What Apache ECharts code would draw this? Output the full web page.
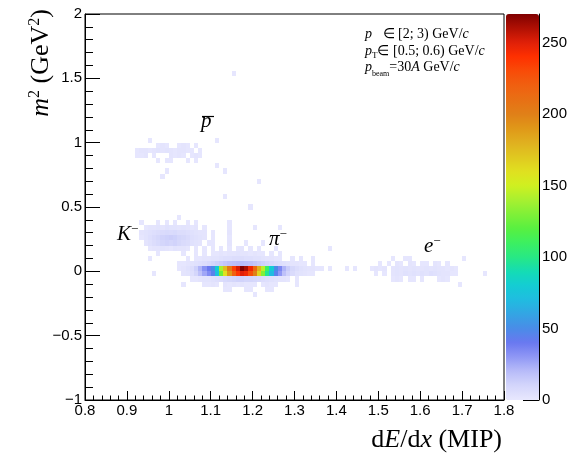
<!DOCTYPE html>
<html><head><meta charset="utf-8">
<script src="https://cdn.jsdelivr.net/npm/echarts@6/dist/echarts.min.js"></script>
<style>html,body{margin:0;padding:0;background:#fff}#c{width:576px;height:465px}</style>
</head><body><div id="c"></div>
<script>
// ---- binning of the 2D histogram ----
const BIN_X = 0.01;   // dE/dx bin width (MIP)
const BIN_Y = 0.04;   // m^2 bin width (GeV^2)

// ---- axis ranges / ticks ----
const xRange = [0.8, 1.8];
const yRange = [-1, 2];
const zMax = 270;
const zTicks = [0, 50, 100, 150, 200, 250];

// ---- pi- band: rows (lower m^2 edge), first dE/dx bin, counts in consecutive bins ----
const pionRowY  = [-0.12, -0.08, -0.04, 0.00, 0.04, 0.08, 0.12];
const pionRowX0 = [1.03, 1.05, 1.03, 1.02, 1.02, 1.04, 1.06];
const pionRowCounts = [
  [1,0,0,0,0,1,1,2,1,0,2,1,2,1,2,1,1,1,0,1,2,1,1,0,0,0,0,1],
  [1,1,2,3,3,4,5,6,8,9,10,11,11,10,10,9,8,6,5,4,3,2,2,1,0,1],
  [2,3,5,10,18,26,34,45,72,125,160,190,220,238,250,245,228,200,165,130,98,70,45,30,18,11,7,4,3,2,1,1],
  [1,2,4,6,12,22,32,40,50,80,140,175,205,235,252,270,262,245,215,180,145,110,80,50,35,22,14,9,6,4,3,2,2,1,1],
  [1,1,2,3,4,5,6,8,10,12,14,16,18,19,20,20,19,18,16,14,12,10,8,6,5,4,3,2,2,1,1,0,1],
  [1,0,1,1,2,2,3,3,4,5,5,6,6,6,5,5,4,4,3,2,2,1,1,0,0,1,0,1],
  [1,0,1,0,1,1,2,1,2,2,3,2,2,1,2,1,1,0,1,0,1]
];

// ---- sparse cells [dE/dx bin, m^2 bin, count] ----
const pionHaloCells = [
  [1.08,0.16,1],[1.10,0.16,1],[1.12,0.16,1],[1.14,0.16,1],[1.16,0.16,1],[1.17,0.16,2],[1.19,0.16,1],[1.21,0.16,1],[1.25,0.16,1],
  [1.10,0.20,1],[1.14,0.20,2],[1.18,0.20,1],[1.22,0.20,1],
  [1.10,0.24,1],[1.14,0.24,1],[1.14,0.28,2],[1.14,0.32,1],[1.14,0.36,1],
  [1.13,-0.16,1],[1.14,-0.16,1],[1.18,-0.16,1],[1.19,-0.16,1],[1.23,-0.16,1],[1.24,-0.16,1],
  [1.20,-0.20,1]
];
const kaonCells = [
  [0.93,0.36,1],[0.97,0.36,1],[0.99,0.36,1],[1.01,0.36,1],[1.04,0.36,1],
  [0.94,0.32,1],[0.95,0.32,2],[0.96,0.32,2],[0.97,0.32,3],[0.98,0.32,2],[0.99,0.32,4],[1.00,0.32,3],[1.01,0.32,3],[1.02,0.32,2],[1.03,0.32,3],[1.04,0.32,2],[1.05,0.32,1],[1.06,0.32,2],[1.08,0.32,1],
  [0.93,0.28,2],[0.94,0.28,3],[0.95,0.28,4],[0.96,0.28,5],[0.97,0.28,6],[0.98,0.28,7],[0.99,0.28,8],[1.00,0.28,7],[1.01,0.28,8],[1.02,0.28,6],[1.03,0.28,6],[1.04,0.28,5],[1.05,0.28,4],[1.06,0.28,3],[1.07,0.28,2],[1.08,0.28,2],[1.10,0.28,1],
  [0.93,0.24,1],[0.94,0.24,3],[0.95,0.24,5],[0.96,0.24,7],[0.97,0.24,9],[0.98,0.24,11],[0.99,0.24,12],[1.00,0.24,13],[1.01,0.24,12],[1.02,0.24,10],[1.03,0.24,9],[1.04,0.24,7],[1.05,0.24,5],[1.06,0.24,4],[1.07,0.24,3],[1.08,0.24,2],
  [0.94,0.20,2],[0.95,0.20,4],[0.96,0.20,6],[0.97,0.20,8],[0.98,0.20,10],[0.99,0.20,11],[1.00,0.20,10],[1.01,0.20,11],[1.02,0.20,9],[1.03,0.20,7],[1.04,0.20,6],[1.05,0.20,4],[1.06,0.20,3],[1.07,0.20,2],[1.09,0.20,1],
  [0.95,0.16,1],[0.96,0.16,2],[0.97,0.16,2],[0.98,0.16,3],[0.99,0.16,2],[1.00,0.16,1],[1.01,0.16,3],[1.02,0.16,2],[1.03,0.16,2],[1.04,0.16,1],[1.06,0.16,1],
  [0.97,0.12,1],[1.03,0.12,1]
];
const antiprotonCells = [
  [0.95,1.00,1],[1.11,1.00,1],
  [0.97,0.96,1],[0.98,0.96,2],[0.99,0.96,1],[1.02,0.96,1],[1.03,0.96,2],[1.04,0.96,1],[1.06,0.96,1],
  [0.92,0.92,1],[0.93,0.92,2],[0.94,0.92,2],[0.95,0.92,1],[0.96,0.92,2],[0.97,0.92,3],[0.98,0.92,2],[0.99,0.92,3],[1.00,0.92,2],[1.01,0.92,1],[1.02,0.92,2],[1.03,0.92,2],[1.04,0.92,1],[1.05,0.92,1],[1.07,0.92,1],
  [0.92,0.88,1],[0.93,0.88,1],[0.94,0.88,2],[0.96,0.88,1],[1.00,0.88,2],[1.01,0.88,1],[1.02,0.88,2],[1.03,0.88,1],[1.05,0.88,1],[1.06,0.88,2],[1.07,0.88,1],
  [0.97,0.84,1],[0.99,0.84,1],[1.00,0.84,1],[1.04,0.84,1],[1.06,0.84,1],
  [1.11,0.80,1],[0.99,0.76,1],[1.13,0.76,1],[0.98,0.72,1]
];
const electronCells = [
  [1.53,0.08,1],[1.56,0.08,1],[1.57,0.08,1],
  [1.50,0.04,1],[1.52,0.04,1],[1.54,0.04,2],[1.55,0.04,1],[1.57,0.04,2],[1.58,0.04,1],[1.60,0.04,1],[1.61,0.04,1],[1.63,0.04,2],[1.64,0.04,1],[1.66,0.04,1],
  [1.48,0.00,1],[1.49,0.00,2],[1.50,0.00,1],[1.51,0.00,2],[1.53,0.00,2],[1.54,0.00,3],[1.55,0.00,2],[1.56,0.00,3],[1.57,0.00,2],[1.58,0.00,3],[1.59,0.00,2],[1.60,0.00,2],[1.61,0.00,3],[1.62,0.00,2],[1.63,0.00,3],[1.64,0.00,2],[1.65,0.00,2],[1.66,0.00,1],[1.67,0.00,2],[1.68,0.00,1],
  [1.49,-0.04,1],[1.51,-0.04,1],[1.53,-0.04,2],[1.54,-0.04,3],[1.55,-0.04,2],[1.56,-0.04,4],[1.57,-0.04,3],[1.58,-0.04,4],[1.59,-0.04,3],[1.60,-0.04,4],[1.61,-0.04,3],[1.62,-0.04,5],[1.63,-0.04,4],[1.64,-0.04,3],[1.65,-0.04,2],[1.66,-0.04,2],[1.67,-0.04,1],[1.68,-0.04,1],
  [1.53,-0.08,1],[1.54,-0.08,2],[1.55,-0.08,1],[1.57,-0.08,1],[1.58,-0.08,1],[1.60,-0.08,1],[1.64,-0.08,1],[1.65,-0.08,2],[1.66,-0.08,1],
  [1.69,-0.12,1]
];
const strayCells = [
  [1.15,1.52,1],[1.21,0.68,1],[1.13,0.56,1],[1.19,0.48,1],[1.02,0.40,1],[1.06,0.36,1],
  [1.20,0.32,1],[1.26,0.32,1],[1.38,0.16,1],[1.00,0.16,1],[0.95,0.08,1],
  [1.35,0.00,1],[1.38,0.00,1],[1.42,0.00,1],[1.44,0.00,1],
  [1.29,0.08,1],[1.31,0.08,1],[1.34,0.08,1],[1.30,-0.12,1],
  [1.70,0.08,1],[1.75,-0.04,1],[0.96,-0.04,1]
];

// colour palette (0 .. 270, one colour per 10 counts)
const paletteColors = ['#e8e8fe','#d4d6fb','#b8bcf9','#9098f5','#6a78f0','#4a8ce8','#34a4e4','#20bce0','#14ccd4','#14dcb4',
  '#28e884','#3cf060','#58f040','#80f038','#a8f030','#d0f020','#e0e020','#e0c820','#e0b020','#e09818',
  '#e08018','#e87014','#f06010','#f84c08','#ff3000','#e02008','#b01004','#800000'];

// ---- build cell list ----
const cells = [];
pionRowY.forEach((y, r) => {
  pionRowCounts[r].forEach((c, k) => {
    if (c > 0) cells.push([Math.round((pionRowX0[r] + k * BIN_X) * 100) / 100, y, c]);
  });
});
[pionHaloCells, kaonCells, antiprotonCells, electronCells, strayCells].forEach(a => a.forEach(d => cells.push(d)));

const SANS = '"Liberation Sans", Arial, Helvetica, sans-serif';
const SERIF = '"Liberation Serif", "Times New Roman", serif';
const fmtNum = v => String(Math.round(v * 10) / 10).replace('-', '\u2212');

const chart = echarts.init(document.getElementById('c'), null, {renderer: 'canvas'});
chart.setOption({
  animation: false,
  backgroundColor: '#fff',
  grid: [
    {left: 85, top: 14, width: 419, height: 386, show: true, borderColor: '#000', borderWidth: 1, backgroundColor: 'transparent'},
    {left: 506, top: 14, width: 33, height: 386, show: false}
  ],
  xAxis: [
    {type: 'value', gridIndex: 0, min: xRange[0], max: xRange[1], interval: 0.1,
     axisLine: {onZero: false, lineStyle: {color: '#000', width: 1}},
     axisTick: {inside: true, length: 9, lineStyle: {color: '#000'}},
     minorTick: {show: true, splitNumber: 5, length: 4.5, lineStyle: {color: '#000'}},
     splitLine: {show: false},
     axisLabel: {formatter: fmtNum, fontFamily: SANS, fontSize: 15, color: '#000', margin: 3}},
    {type: 'value', gridIndex: 1, min: 0, max: 1, show: false}
  ],
  yAxis: [
    {type: 'value', gridIndex: 0, min: yRange[0], max: yRange[1], interval: 0.5,
     axisLine: {onZero: false, lineStyle: {color: '#000', width: 1}},
     axisTick: {inside: true, length: 15, lineStyle: {color: '#000'}},
     minorTick: {show: true, splitNumber: 5, length: 8, lineStyle: {color: '#000'}},
     splitLine: {show: false},
     axisLabel: {formatter: fmtNum, fontFamily: SANS, fontSize: 15, color: '#000', margin: 3}},
    {type: 'value', gridIndex: 1, position: 'right', min: 0, max: zMax,
     axisLine: {show: true, onZero: false, lineStyle: {color: '#000', width: 1}},
     axisTick: {show: true, inside: true, length: 16, customValues: zTicks, lineStyle: {color: '#000'}},
     axisLabel: {show: true, customValues: zTicks, fontFamily: SANS, fontSize: 15, color: '#000', margin: 3},
     splitLine: {show: false}}
  ],
  visualMap: {
    type: 'continuous', min: 0, max: zMax, dimension: 2, seriesIndex: 0,
    left: 506, top: 14, itemWidth: 33, itemHeight: 386, padding: 0,
    calculable: false, hoverLink: false, text: null, showLabel: false,
    inRange: {color: paletteColors}
  },
  series: [{
    type: 'custom', xAxisIndex: 0, yAxisIndex: 0, clip: true,
    encode: {x: 0, y: 1},
    data: cells,
    renderItem: (params, api) => {
      const x = api.value(0), y = api.value(1);
      const p0 = api.coord([x, y + BIN_Y]);
      const p1 = api.coord([x + BIN_X, y]);
      const x0 = Math.round(p0[0]), y0 = Math.round(p0[1]);
      return {type: 'rect',
        shape: {x: x0, y: y0, width: Math.round(p1[0]) - x0, height: Math.round(p1[1]) - y0},
        style: {fill: api.visual('color'), stroke: null}};
    }
  }],
  graphic: [
    {type: 'text', x: 41, y: 9, rotation: Math.PI / 2, z: 10,
     style: {text: '{i|m}{s|2}{n| (GeV}{s|2}{n|)}', align: 'right', verticalAlign: 'middle',
       rich: {i: {fontFamily: SERIF, fontStyle: 'italic', fontSize: 26, lineHeight: 28, fill: '#000'},
              n: {fontFamily: SERIF, fontSize: 26, lineHeight: 28, fill: '#000'},
              s: {fontFamily: SERIF, fontSize: 16, lineHeight: 16, verticalAlign: 'top', fill: '#000'}}}},
    {type: 'text', x: 502, y: 440, z: 10,
     style: {text: '{n|d}{i|E}{n|/d}{i|x}{n| (MIP)}', align: 'right', verticalAlign: 'middle',
       rich: {i: {fontFamily: SERIF, fontStyle: 'italic', fontSize: 26, fill: '#000'},
              n: {fontFamily: SERIF, fontSize: 26, fill: '#000'}}}},
    {type: 'text', x: 365, y: 34, z: 10,
     style: {text: '{i|p}{n|   \u2208 [2; 3) GeV/}{i|c}', verticalAlign: 'middle',
       rich: {i: {fontFamily: SERIF, fontStyle: 'italic', fontSize: 14, lineHeight: 18, fill: '#000'},
              n: {fontFamily: SERIF, fontSize: 14, lineHeight: 18, fill: '#000'}}}},
    {type: 'text', x: 365, y: 51, z: 10,
     style: {text: '{i|p}{b|T}{n|\u2208 [0.5; 0.6) GeV/}{i|c}', verticalAlign: 'middle',
       rich: {i: {fontFamily: SERIF, fontStyle: 'italic', fontSize: 14, lineHeight: 18, fill: '#000'},
              n: {fontFamily: SERIF, fontSize: 14, lineHeight: 18, fill: '#000'},
              b: {fontFamily: SERIF, fontSize: 9, lineHeight: 9, verticalAlign: 'bottom', fill: '#000'}}}},
    {type: 'text', x: 365, y: 67, z: 10,
     style: {text: '{i|p}{b|beam}{n|=30}{i|A}{n| GeV/}{i|c}', verticalAlign: 'middle',
       rich: {i: {fontFamily: SERIF, fontStyle: 'italic', fontSize: 14, lineHeight: 22, fill: '#000'},
              n: {fontFamily: SERIF, fontSize: 14, lineHeight: 22, fill: '#000'},
              b: {fontFamily: SERIF, fontSize: 8, lineHeight: 8, verticalAlign: 'bottom', fill: '#000'}}}},
    {type: 'text', x: 201, y: 121, z: 10,
     style: {text: 'p', fontFamily: SERIF, fontStyle: 'italic', fontSize: 21, verticalAlign: 'middle', fill: '#000'}},
    {type: 'line', z: 10, shape: {x1: 202, y1: 116.5, x2: 214, y2: 116.5}, style: {stroke: '#000', lineWidth: 1.2}},
    {type: 'text', x: 117, y: 234, z: 10,
     style: {text: '{i|K}{s|\u2212}', verticalAlign: 'middle',
       rich: {i: {fontFamily: SERIF, fontStyle: 'italic', fontSize: 21, lineHeight: 22, fill: '#000'},
              s: {fontFamily: SERIF, fontSize: 13, lineHeight: 13, verticalAlign: 'top', fill: '#000'}}}},
    {type: 'text', x: 269, y: 239, z: 10,
     style: {text: '{i|\u03c0}{s|\u2212}', verticalAlign: 'middle',
       rich: {i: {fontFamily: SERIF, fontStyle: 'italic', fontSize: 21, lineHeight: 22, fill: '#000'},
              s: {fontFamily: SERIF, fontSize: 13, lineHeight: 13, verticalAlign: 'top', fill: '#000'}}}},
    {type: 'text', x: 424, y: 246, z: 10,
     style: {text: '{i|e}{s|\u2212}', verticalAlign: 'middle',
       rich: {i: {fontFamily: SERIF, fontStyle: 'italic', fontSize: 21, lineHeight: 22, fill: '#000'},
              s: {fontFamily: SERIF, fontSize: 13, lineHeight: 13, verticalAlign: 'top', fill: '#000'}}}}
  ]
});
</script></body></html>
